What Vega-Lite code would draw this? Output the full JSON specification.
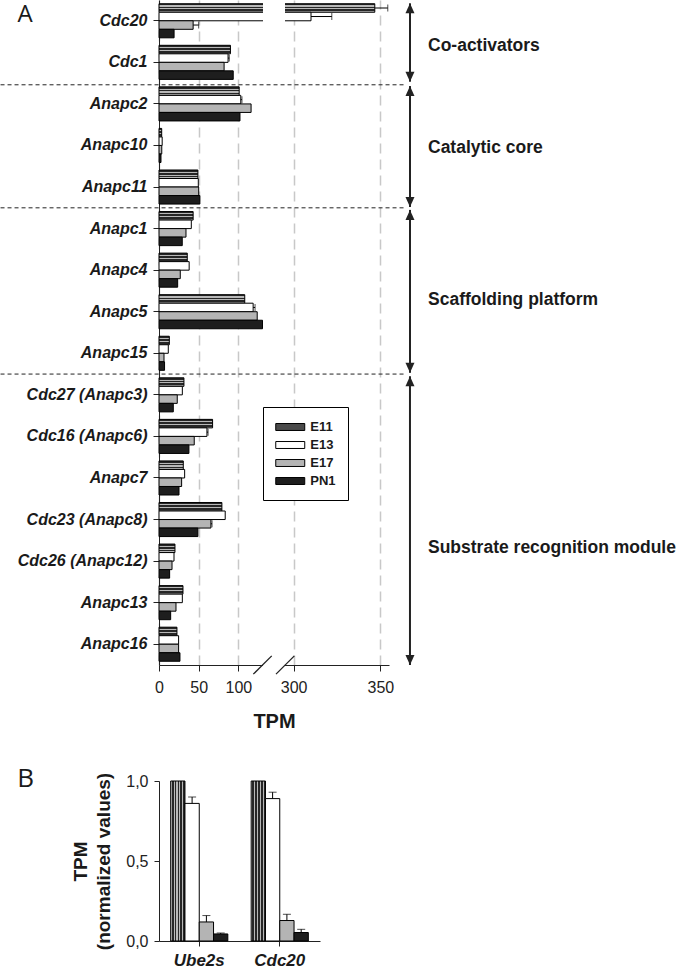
{
  "$schema": "https://vega.github.io/schema/vega-lite/v6.json",
  "background": "white",
  "padding": {"left": 0, "top": 0, "right": 0, "bottom": 0},
  "config": {"font": "Liberation Sans", "view": {"stroke": null}},
  "datasets": {
    "a": [
      {"gene": "Cdc20", "stage": "E11", "tpm": 346.8}, {"gene": "Cdc20", "stage": "E13", "tpm": 310}, {"gene": "Cdc20", "stage": "E17", "tpm": 43}, {"gene": "Cdc20", "stage": "PN1", "tpm": 19},
      {"gene": "Cdc1", "stage": "E11", "tpm": 90}, {"gene": "Cdc1", "stage": "E13", "tpm": 87}, {"gene": "Cdc1", "stage": "E17", "tpm": 82}, {"gene": "Cdc1", "stage": "PN1", "tpm": 93.5},
      {"gene": "Anapc2", "stage": "E11", "tpm": 101}, {"gene": "Anapc2", "stage": "E13", "tpm": 103}, {"gene": "Anapc2", "stage": "E17", "tpm": 116}, {"gene": "Anapc2", "stage": "PN1", "tpm": 102},
      {"gene": "Anapc10", "stage": "E11", "tpm": 3.4}, {"gene": "Anapc10", "stage": "E13", "tpm": 4}, {"gene": "Anapc10", "stage": "E17", "tpm": 3.5}, {"gene": "Anapc10", "stage": "PN1", "tpm": 2.5},
      {"gene": "Anapc11", "stage": "E11", "tpm": 49}, {"gene": "Anapc11", "stage": "E13", "tpm": 49.5}, {"gene": "Anapc11", "stage": "E17", "tpm": 50}, {"gene": "Anapc11", "stage": "PN1", "tpm": 51.5},
      {"gene": "Anapc1", "stage": "E11", "tpm": 43}, {"gene": "Anapc1", "stage": "E13", "tpm": 40.7}, {"gene": "Anapc1", "stage": "E17", "tpm": 34}, {"gene": "Anapc1", "stage": "PN1", "tpm": 29.3},
      {"gene": "Anapc4", "stage": "E11", "tpm": 35.6}, {"gene": "Anapc4", "stage": "E13", "tpm": 38}, {"gene": "Anapc4", "stage": "E17", "tpm": 26.8}, {"gene": "Anapc4", "stage": "PN1", "tpm": 23.5},
      {"gene": "Anapc5", "stage": "E11", "tpm": 108}, {"gene": "Anapc5", "stage": "E13", "tpm": 118.6}, {"gene": "Anapc5", "stage": "E17", "tpm": 123.7}, {"gene": "Anapc5", "stage": "PN1", "tpm": 130.4},
      {"gene": "Anapc15", "stage": "E11", "tpm": 13}, {"gene": "Anapc15", "stage": "E13", "tpm": 11.7}, {"gene": "Anapc15", "stage": "E17", "tpm": 6.3}, {"gene": "Anapc15", "stage": "PN1", "tpm": 7},
      {"gene": "Cdc27 (Anapc3)", "stage": "E11", "tpm": 31.4}, {"gene": "Cdc27 (Anapc3)", "stage": "E13", "tpm": 29.4}, {"gene": "Cdc27 (Anapc3)", "stage": "E17", "tpm": 23}, {"gene": "Cdc27 (Anapc3)", "stage": "PN1", "tpm": 18},
      {"gene": "Cdc16 (Anapc6)", "stage": "E11", "tpm": 67.5}, {"gene": "Cdc16 (Anapc6)", "stage": "E13", "tpm": 60.4}, {"gene": "Cdc16 (Anapc6)", "stage": "E17", "tpm": 44.4}, {"gene": "Cdc16 (Anapc6)", "stage": "PN1", "tpm": 37.7},
      {"gene": "Anapc7", "stage": "E11", "tpm": 30.6}, {"gene": "Anapc7", "stage": "E13", "tpm": 32.3}, {"gene": "Anapc7", "stage": "E17", "tpm": 28.5}, {"gene": "Anapc7", "stage": "PN1", "tpm": 25.2},
      {"gene": "Cdc23 (Anapc8)", "stage": "E11", "tpm": 79.2}, {"gene": "Cdc23 (Anapc8)", "stage": "E13", "tpm": 83.4}, {"gene": "Cdc23 (Anapc8)", "stage": "E17", "tpm": 65.4}, {"gene": "Cdc23 (Anapc8)", "stage": "PN1", "tpm": 49},
      {"gene": "Cdc26 (Anapc12)", "stage": "E11", "tpm": 20.1}, {"gene": "Cdc26 (Anapc12)", "stage": "E13", "tpm": 18.9}, {"gene": "Cdc26 (Anapc12)", "stage": "E17", "tpm": 16.4}, {"gene": "Cdc26 (Anapc12)", "stage": "PN1", "tpm": 13.4},
      {"gene": "Anapc13", "stage": "E11", "tpm": 30.2}, {"gene": "Anapc13", "stage": "E13", "tpm": 29.4}, {"gene": "Anapc13", "stage": "E17", "tpm": 21.4}, {"gene": "Anapc13", "stage": "PN1", "tpm": 14.7},
      {"gene": "Anapc16", "stage": "E11", "tpm": 22.6}, {"gene": "Anapc16", "stage": "E13", "tpm": 24.7}, {"gene": "Anapc16", "stage": "E17", "tpm": 24.7}, {"gene": "Anapc16", "stage": "PN1", "tpm": 26.4}
    ],
    "a_err": [
      {"gene": "Cdc20", "stage": "E11", "tpm": 346.8, "upper": 354.3},
      {"gene": "Cdc20", "stage": "E13", "tpm": 310, "upper": 322},
      {"gene": "Cdc20", "stage": "E17", "tpm": 43, "upper": 50},
      {"gene": "Cdc1", "stage": "E13", "tpm": 87, "upper": 88.5},
      {"gene": "Anapc2", "stage": "E13", "tpm": 103, "upper": 104.5},
      {"gene": "Anapc5", "stage": "E13", "tpm": 118.6, "upper": 121},
      {"gene": "Cdc16 (Anapc6)", "stage": "E13", "tpm": 60.4, "upper": 61.8},
      {"gene": "Cdc23 (Anapc8)", "stage": "E17", "tpm": 65.4, "upper": 66.8}
    ],
    "groups": [
      {"group": "Co-activators", "top": 0.08, "bottom": 1.966, "mid": 1.114},
      {"group": "Catalytic core", "top": 2.07, "bottom": 4.98, "mid": 3.568},
      {"group": "Scaffolding platform", "top": 5.05, "bottom": 8.97, "mid": 7.23},
      {"group": "Substrate recognition module", "top": 9.05, "bottom": 16.0, "mid": 13.19}
    ],
    "b": [
      {"gene": "Ube2s", "stage": "E11", "value": 1.0}, {"gene": "Ube2s", "stage": "E13", "value": 0.86}, {"gene": "Ube2s", "stage": "E17", "value": 0.119}, {"gene": "Ube2s", "stage": "PN1", "value": 0.044},
      {"gene": "Cdc20", "stage": "E11", "value": 1.0}, {"gene": "Cdc20", "stage": "E13", "value": 0.89}, {"gene": "Cdc20", "stage": "E17", "value": 0.128}, {"gene": "Cdc20", "stage": "PN1", "value": 0.053}
    ],
    "b_err": [
      {"gene": "Ube2s", "stage": "E13", "value": 0.86, "upper": 0.90}, {"gene": "Ube2s", "stage": "E17", "value": 0.119, "upper": 0.159}, {"gene": "Ube2s", "stage": "PN1", "value": 0.044, "upper": 0.05},
      {"gene": "Cdc20", "stage": "E13", "value": 0.89, "upper": 0.93}, {"gene": "Cdc20", "stage": "E17", "value": 0.128, "upper": 0.167}, {"gene": "Cdc20", "stage": "PN1", "value": 0.053, "upper": 0.073}
    ]
  },
  "vconcat": [
    {
      "width": 230,
      "height": 665,
      "resolve": {"scale": {"y": "independent"}},
      "layer": [
        {
          "layer": [
            {
              "data": {"name": "a"},
              "transform": [{"filter": "datum.stage === 'E11'"}],
              "mark": {"type": "bar", "stroke": "black", "strokeWidth": 1,
                "fill": {"gradient": "linear", "x1": 0, "y1": 0, "x2": 0, "y2": 1, "stops": [
                  {"offset": 0, "color": "#262626"}, {"offset": 0.2, "color": "#262626"}, {"offset": 0.2, "color": "#b8b8b8"}, {"offset": 0.333, "color": "#b8b8b8"},
                  {"offset": 0.333, "color": "#262626"}, {"offset": 0.533, "color": "#262626"}, {"offset": 0.533, "color": "#b8b8b8"}, {"offset": 0.667, "color": "#b8b8b8"},
                  {"offset": 0.667, "color": "#262626"}, {"offset": 0.867, "color": "#262626"}, {"offset": 0.867, "color": "#b8b8b8"}, {"offset": 1, "color": "#b8b8b8"}]}},
              "encoding": {
                "y": {"field": "gene", "type": "nominal", "sort": null,
                  "scale": {"domain": ["Cdc20","Cdc1","Anapc2","Anapc10","Anapc11","Anapc1","Anapc4","Anapc5","Anapc15","Cdc27 (Anapc3)","Cdc16 (Anapc6)","Anapc7","Cdc23 (Anapc8)","Cdc26 (Anapc12)","Anapc13","Anapc16"], "paddingInner": 0.18, "paddingOuter": 0.09},
                  "axis": {"title": null, "labelFontSize": 16, "labelFontStyle": "italic", "labelFontWeight": "bold", "labelColor": "#1a1a1a", "labelPadding": 6, "tickSize": 6, "tickColor": "#222", "domainColor": "#222", "grid": false, "labelLimit": 300}},
                "yOffset": {"field": "stage", "type": "nominal", "scale": {"domain": ["E11","E13","E17","PN1"], "paddingInner": 0, "paddingOuter": 0}},
                "x": {"field": "tpm", "type": "quantitative", "title": "TPM",
                  "scale": {"domain": [0, 131, 295, 355], "range": [0, 104, 126, 230], "nice": false, "zero": false},
                  "axis": {"values": [0, 50, 100, 300, 350], "title": "TPM", "titleFontSize": 20, "titleFontWeight": "bold", "titleColor": "#1a1a1a", "titlePadding": 16, "labelFontSize": 16, "labelColor": "#222", "labelPadding": 8, "labelFlush": false, "labelOverlap": false, "tickSize": 6, "tickColor": "#222", "domainColor": "#222", "grid": true, "gridColor": "#c8c8c8", "gridDash": [10, 6], "gridWidth": 1.5}}
              }
            },
            {
              "data": {"name": "a"},
              "transform": [{"filter": "datum.stage !== 'E11'"}],
              "mark": {"type": "bar", "stroke": "black", "strokeWidth": 1},
              "encoding": {
                "y": {"field": "gene", "type": "nominal", "sort": null},
                "yOffset": {"field": "stage", "type": "nominal", "scale": {"domain": ["E11","E13","E17","PN1"], "paddingInner": 0, "paddingOuter": 0}},
                "x": {"field": "tpm", "type": "quantitative", "title": "TPM"},
                "fill": {"field": "stage", "type": "nominal",
                  "scale": {"domain": ["E11","E13","E17","PN1"], "range": ["#4a4a4a", "#ffffff", "#b4b4b4", "#1e1e1e"]},
                  "legend": {"title": null, "orient": "none", "legendX": 104, "legendY": 407, "direction": "vertical", "symbolType": "M-2,-0.48H2V0.48H-2Z", "symbolSize": 210, "symbolOffset": 7.25, "symbolStrokeColor": "black", "symbolStrokeWidth": 1, "labelFontSize": 13, "labelFontWeight": "bold", "labelColor": "#1a1a1a", "labelOffset": 12, "rowPadding": 3, "padding": 12, "strokeColor": "black", "fillColor": "white", "cornerRadius": 0,
                    "encode": {"symbols": {"update": {
                      "stroke": {"value": "black"}, "strokeWidth": {"value": 1},
                      "fill": [
                        {"test": "datum.value === 'E11'", "value": {"gradient": "linear", "x1": 0, "y1": 0, "x2": 0, "y2": 1, "stops": [
                          {"offset": 0, "color": "#262626"}, {"offset": 0.3, "color": "#262626"}, {"offset": 0.3, "color": "#b8b8b8"}, {"offset": 0.5, "color": "#b8b8b8"},
                          {"offset": 0.5, "color": "#262626"}, {"offset": 0.8, "color": "#262626"}, {"offset": 0.8, "color": "#b8b8b8"}, {"offset": 1, "color": "#b8b8b8"}]}},
                        {"test": "datum.value === 'E13'", "value": "#ffffff"},
                        {"test": "datum.value === 'E17'", "value": "#b4b4b4"},
                        {"value": "#1e1e1e"}]}}}}}
              }
            },
            {
              "data": {"name": "a_err"},
              "mark": {"type": "rule", "color": "black", "strokeWidth": 1},
              "encoding": {
                "y": {"field": "gene", "type": "nominal", "sort": null},
                "yOffset": {"field": "stage", "type": "nominal", "scale": {"domain": ["E11","E13","E17","PN1"], "paddingInner": 0, "paddingOuter": 0}},
                "x": {"field": "tpm", "type": "quantitative", "title": "TPM"},
                "x2": {"field": "upper"}
              }
            },
            {
              "data": {"name": "a_err"},
              "mark": {"type": "tick", "orient": "vertical", "color": "black", "size": 7, "thickness": 1},
              "encoding": {
                "y": {"field": "gene", "type": "nominal", "sort": null},
                "yOffset": {"field": "stage", "type": "nominal", "scale": {"domain": ["E11","E13","E17","PN1"], "paddingInner": 0, "paddingOuter": 0}},
                "x": {"field": "upper", "type": "quantitative", "title": "TPM"}
              }
            }
          ]
        },
        {
          "layer": [
            {
              "data": {"values": [{"from": 131, "to": 295}]},
              "mark": {"type": "rect", "fill": "white", "stroke": null},
              "encoding": {
                "x": {"field": "from", "type": "quantitative", "title": "TPM"},
                "x2": {"field": "to"},
                "y": {"datum": 0, "type": "quantitative", "scale": {"domain": [0, 16], "reverse": true, "nice": false, "zero": false}, "axis": null},
                "y2": {"datum": 16.06}
              }
            },
            {
              "data": {"values": [{"lo": 118.8, "hi": 195.9}, {"lo": 227.9, "hi": 300.4}]},
              "mark": {"type": "rule", "color": "#222", "strokeWidth": 1.3},
              "encoding": {
                "x": {"field": "lo", "type": "quantitative", "title": "TPM"},
                "x2": {"field": "hi"},
                "y": {"datum": 16.22, "type": "quantitative", "scale": {"domain": [0, 16], "reverse": true, "nice": false, "zero": false}, "axis": null},
                "y2": {"datum": 15.78}
              }
            },
            {
              "data": {"values": [{"row": 2.04}, {"row": 5.0}, {"row": 9.0}]},
              "mark": {"type": "rule", "color": "#222", "strokeWidth": 1, "strokeDash": [4, 3]},
              "encoding": {
                "x": {"datum": -199.6, "type": "quantitative"},
                "x2": {"datum": 364.2},
                "y": {"field": "row", "type": "quantitative", "scale": {"domain": [0, 16], "reverse": true, "nice": false, "zero": false}, "axis": null}
              }
            },
            {
              "data": {"name": "groups"},
              "mark": {"type": "rule", "color": "#222", "strokeWidth": 2},
              "encoding": {
                "x": {"datum": 367.1, "type": "quantitative"},
                "y": {"field": "top", "type": "quantitative", "scale": {"domain": [0, 16], "reverse": true, "nice": false, "zero": false}, "axis": null},
                "y2": {"field": "bottom"}
              }
            },
            {
              "data": {"name": "groups"},
              "mark": {"type": "point", "shape": "M0,0L0.45,1L-0.45,1Z", "filled": true, "fill": "#222", "stroke": null, "opacity": 1, "size": 400},
              "encoding": {
                "x": {"datum": 367.1, "type": "quantitative"},
                "y": {"field": "top", "type": "quantitative", "scale": {"domain": [0, 16], "reverse": true, "nice": false, "zero": false}, "axis": null}
              }
            },
            {
              "data": {"name": "groups"},
              "mark": {"type": "point", "shape": "M0,0L0.45,-1L-0.45,-1Z", "filled": true, "fill": "#222", "stroke": null, "opacity": 1, "size": 400},
              "encoding": {
                "x": {"datum": 367.1, "type": "quantitative"},
                "y": {"field": "bottom", "type": "quantitative", "scale": {"domain": [0, 16], "reverse": true, "nice": false, "zero": false}, "axis": null}
              }
            },
            {
              "data": {"name": "groups"},
              "mark": {"type": "text", "align": "left", "baseline": "middle", "fontSize": 17.5, "fontWeight": "bold", "color": "#1a1a1a"},
              "encoding": {
                "x": {"datum": 377.5, "type": "quantitative"},
                "y": {"field": "mid", "type": "quantitative", "scale": {"domain": [0, 16], "reverse": true, "nice": false, "zero": false}, "axis": null},
                "text": {"field": "group"}
              }
            },
            {
              "data": {"values": [{"panel": "A"}]},
              "mark": {"type": "text", "align": "center", "baseline": "top", "font": "Open Sans", "fontSize": 24, "color": "#1a1a1a"},
              "encoding": {
                "x": {"datum": -168.8, "type": "quantitative"},
                "y": {"datum": 0.08, "type": "quantitative", "scale": {"domain": [0, 16], "reverse": true, "nice": false, "zero": false}, "axis": null},
                "text": {"field": "panel"}
              }
            }
          ]
        }
      ]
    },
    {
      "width": 161,
      "height": 160,
      "resolve": {"scale": {"x": "independent"}},
      "layer": [
        {
          "layer": [
            {
              "data": {"name": "b"},
              "transform": [{"filter": "datum.stage === 'E11'"}],
              "mark": {"type": "bar", "stroke": "black", "strokeWidth": 1,
                "fill": {"gradient": "linear", "x1": 0, "y1": 0, "x2": 1, "y2": 0, "stops": [
                  {"offset": 0, "color": "#b8b8b8"}, {"offset": 0.08, "color": "#b8b8b8"}, {"offset": 0.08, "color": "#262626"}, {"offset": 0.2, "color": "#262626"},
                  {"offset": 0.2, "color": "#b8b8b8"}, {"offset": 0.28, "color": "#b8b8b8"}, {"offset": 0.28, "color": "#262626"}, {"offset": 0.4, "color": "#262626"},
                  {"offset": 0.4, "color": "#b8b8b8"}, {"offset": 0.48, "color": "#b8b8b8"}, {"offset": 0.48, "color": "#262626"}, {"offset": 0.6, "color": "#262626"},
                  {"offset": 0.6, "color": "#b8b8b8"}, {"offset": 0.68, "color": "#b8b8b8"}, {"offset": 0.68, "color": "#262626"}, {"offset": 0.8, "color": "#262626"},
                  {"offset": 0.8, "color": "#b8b8b8"}, {"offset": 0.88, "color": "#b8b8b8"}, {"offset": 0.88, "color": "#262626"}, {"offset": 1, "color": "#262626"}]}},
              "encoding": {
                "x": {"field": "gene", "type": "nominal", "sort": null,
                  "scale": {"domain": ["Ube2s", "Cdc20"], "paddingInner": 0.29, "paddingOuter": 0.145},
                  "axis": {"title": null, "labelAngle": 0, "labelFontSize": 17, "labelFontStyle": "italic", "labelFontWeight": "bold", "labelColor": "#1a1a1a", "tickSize": 5, "labelPadding": 6, "domainColor": "#222", "tickColor": "#222"}},
                "xOffset": {"field": "stage", "type": "nominal", "scale": {"domain": ["E11","E13","E17","PN1"], "paddingInner": 0, "paddingOuter": 0}},
                "y": {"field": "value", "type": "quantitative",
                  "scale": {"domain": [0, 1], "nice": false},
                  "axis": {"values": [0, 0.5, 1], "labelExpr": "replace(format(datum.value, '.1f'), '.', ',')", "labelFontSize": 16, "labelColor": "#222", "tickSize": 5, "labelPadding": 6, "domainColor": "#222", "tickColor": "#222", "grid": false, "title": ["TPM", "(normalized values)"], "titleFontSize": 19, "titleFontWeight": "bold", "titleColor": "#1a1a1a", "titleLineHeight": 23, "titlePadding": 12}}
              }
            },
            {
              "data": {"name": "b"},
              "transform": [{"filter": "datum.stage !== 'E11'"}],
              "mark": {"type": "bar", "stroke": "black", "strokeWidth": 1},
              "encoding": {
                "x": {"field": "gene", "type": "nominal", "sort": null},
                "xOffset": {"field": "stage", "type": "nominal", "scale": {"domain": ["E11","E13","E17","PN1"], "paddingInner": 0, "paddingOuter": 0}},
                "y": {"field": "value", "type": "quantitative"},
                "fill": {"field": "stage", "type": "nominal",
                  "scale": {"domain": ["E11","E13","E17","PN1"], "range": ["#4a4a4a", "#ffffff", "#b4b4b4", "#1e1e1e"]},
                  "legend": null}
              }
            },
            {
              "data": {"name": "b_err"},
              "mark": {"type": "rule", "color": "black", "strokeWidth": 1},
              "encoding": {
                "x": {"field": "gene", "type": "nominal", "sort": null},
                "xOffset": {"field": "stage", "type": "nominal", "scale": {"domain": ["E11","E13","E17","PN1"], "paddingInner": 0, "paddingOuter": 0}},
                "y": {"field": "value", "type": "quantitative"},
                "y2": {"field": "upper"}
              }
            },
            {
              "data": {"name": "b_err"},
              "mark": {"type": "tick", "orient": "horizontal", "color": "black", "size": 8, "thickness": 1},
              "encoding": {
                "x": {"field": "gene", "type": "nominal", "sort": null},
                "xOffset": {"field": "stage", "type": "nominal", "scale": {"domain": ["E11","E13","E17","PN1"], "paddingInner": 0, "paddingOuter": 0}},
                "y": {"field": "upper", "type": "quantitative"}
              }
            }
          ]
        },
        {
          "data": {"values": [{"panel": "B", "px": -0.829, "py": 0.964}]},
          "mark": {"type": "text", "align": "center", "baseline": "alphabetic", "font": "Open Sans", "fontSize": 26, "color": "#1a1a1a"},
          "encoding": {
            "x": {"field": "px", "type": "quantitative", "scale": {"domain": [0, 1], "nice": false, "zero": false}, "axis": null},
            "y": {"field": "py", "type": "quantitative"},
            "text": {"field": "panel"}
          }
        }
      ]
    }
  ],
  "bounds": "flush",
  "spacing": 116,
  "resolve": {"scale": {"fill": "independent"}}
}
